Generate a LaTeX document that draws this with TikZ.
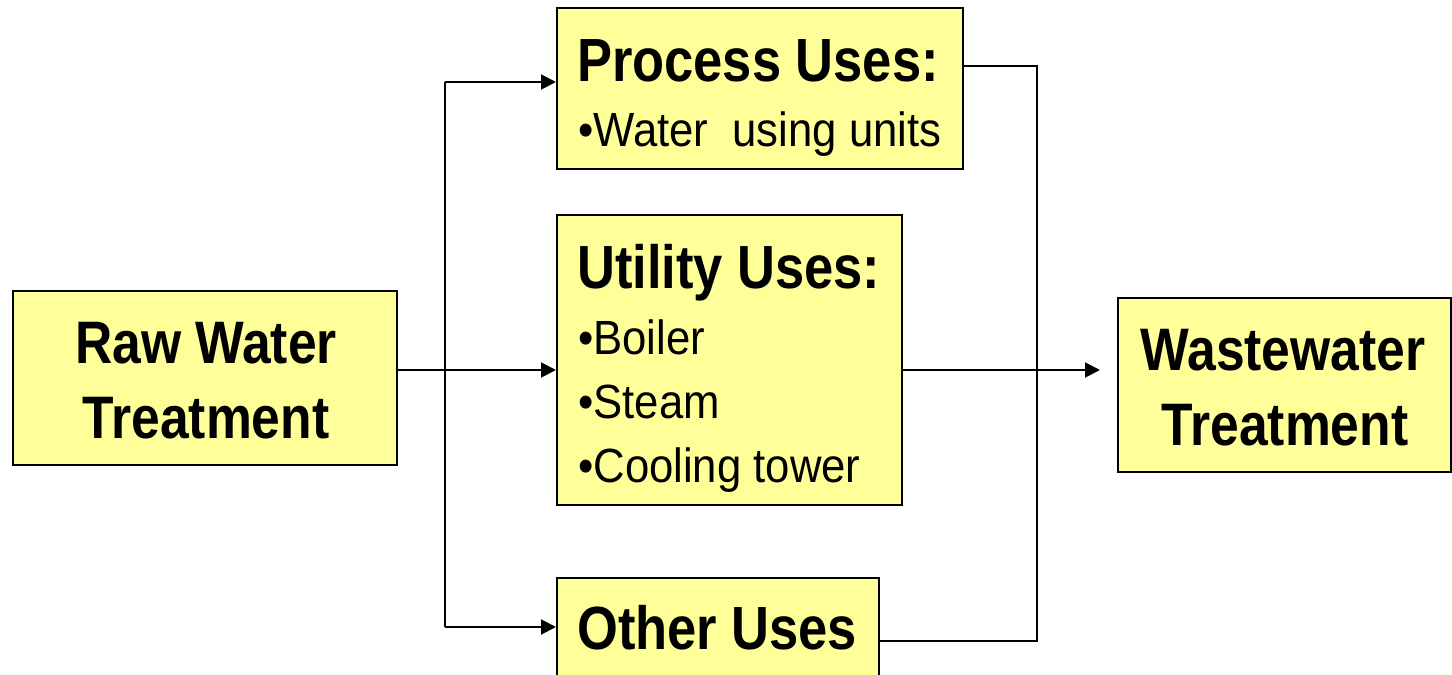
\documentclass[tikz,border=0pt]{standalone}
\usepackage{fontspec}
\setmainfont{Liberation Sans}
\newfontfamily\narfont[FakeStretch=0.86]{Liberation Sans}
\newfontfamily\bulfont[FakeStretch=0.91]{Liberation Sans}
\usetikzlibrary{arrows.meta}
\definecolor{boxfill}{HTML}{FFFF99}
\tikzset{
  box/.style={draw=black, line width=2pt, fill=boxfill, inner sep=0pt},
  conn/.style={draw=black, line width=2pt},
  arr/.style={conn, -{Triangle[length=15pt,width=15pt]}},
  headtxt/.style={inner sep=0pt, font=\narfont\bfseries\fontsize{61}{70}\selectfont},
  bigtxt/.style={inner sep=0pt, anchor=base, font=\narfont\bfseries\fontsize{60}{70}\selectfont},
  bullettxt/.style={inner sep=0pt, anchor=base west, font=\bulfont\fontsize{48}{56}\selectfont}
}
\begin{document}
\begin{tikzpicture}[x=1pt,y=-1pt]
\clip (0,0) rectangle (1452,675);
% boxes
\node[box, minimum width=384pt, minimum height=174pt] (raw) at (205,378) {};
\node[box, minimum width=406pt, minimum height=161pt] (proc) at (760,88.5) {};
\node[box, minimum width=345pt, minimum height=290pt] (util) at (729.5,360) {};
\node[box, minimum width=322pt, minimum height=112pt] (other) at (718,634) {};
\node[box, minimum width=333pt, minimum height=174pt] (waste) at (1284.5,385) {};
% texts
\node[bigtxt] (raw1) at (206,363) {Raw Water};
\node[bigtxt] (raw2) at (206,438) {Treatment};
\node[bigtxt] (ww1) at (1283,370) {Wastewater};
\node[bigtxt] (ww2) at (1285,445) {Treatment};
\node[headtxt, anchor=base west] (proch) at (577,81) {Process Uses:};
\node[bullettxt] (proc1) at (578,146) {•Water\ \ using units};
\node[headtxt, anchor=base west] (utilh) at (577,288) {Utility Uses:};
\node[bullettxt] (util1) at (578,354) {•Boiler};
\node[bullettxt] (util2) at (578,418) {•Steam};
\node[bullettxt] (util3) at (578,482) {•Cooling tower};
\node[headtxt, anchor=base west] (otherh) at (577,649) {Other Uses};
% junctions
\coordinate (j) at (445,370);
\coordinate (jt) at (445,82);
\coordinate (jb) at (445,627);
\coordinate (rt) at (1037,66);
\coordinate (rb) at (1037,641);
% connectors
\draw[conn] (raw.east |- j) -- (j);
\draw[conn] (jt) -- (jb);
\draw[arr] (j) -- (util.west |- j);
\draw[arr] (jt) -- (proc.west |- jt);
\draw[arr] (jb) -- (other.west |- jb);
\draw[conn] (proc.east |- rt) -- (rt) -- (rb) -- (other.east |- rb);
\draw[arr, shorten >=17pt] (util.east |- j) -- (waste.west |- j);
\end{tikzpicture}
\end{document}
